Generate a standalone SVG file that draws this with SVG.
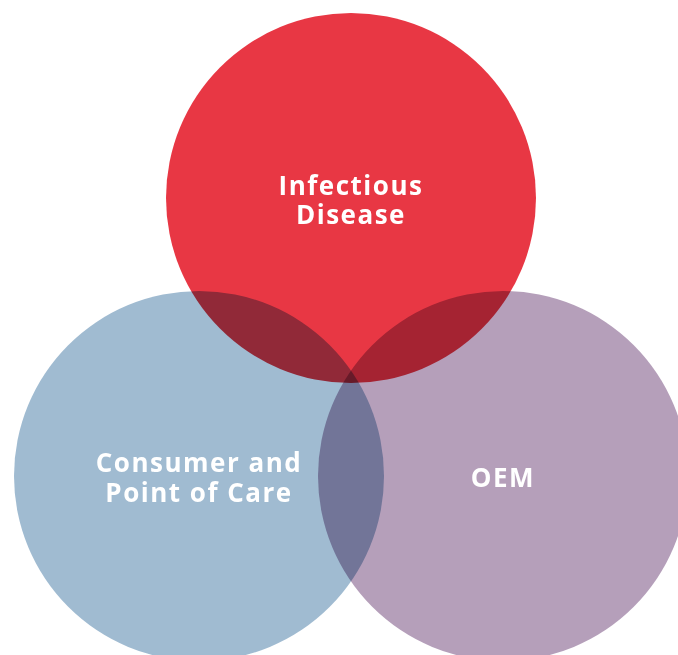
<svg xmlns="http://www.w3.org/2000/svg" width="678" height="655" viewBox="0 0 678 655">
  <style>
    .ring { mix-blend-mode: multiply; }
    .label { font-family: "Open Sans", "Liberation Sans", sans-serif; font-weight: 700; font-size: 26px; fill: #ffffff; text-anchor: middle; letter-spacing: 1.5px; }
  </style>
  <rect x="0" y="0" width="678" height="655" fill="#ffffff"/>
  <g id="infectious-disease">
    <circle class="ring" cx="351" cy="198" r="185" fill="#E83744"/>
  </g>
  <g id="consumer-point-of-care">
    <circle class="ring" cx="199" cy="476" r="185" fill="#A0BBD1"/>
  </g>
  <g id="oem">
    <circle class="ring" cx="503" cy="476" r="185" fill="#B59FBA"/>
  </g>
  <g id="labels">
    <text class="label" x="351" y="195"><tspan x="351">Infectious</tspan><tspan x="351" dy="29">Disease</tspan></text>
    <text class="label" x="199" y="472"><tspan x="199">Consumer and</tspan><tspan x="199" dy="30">Point of Care</tspan></text>
    <text class="label" x="503" y="487">OEM</text>
  </g>
</svg>
